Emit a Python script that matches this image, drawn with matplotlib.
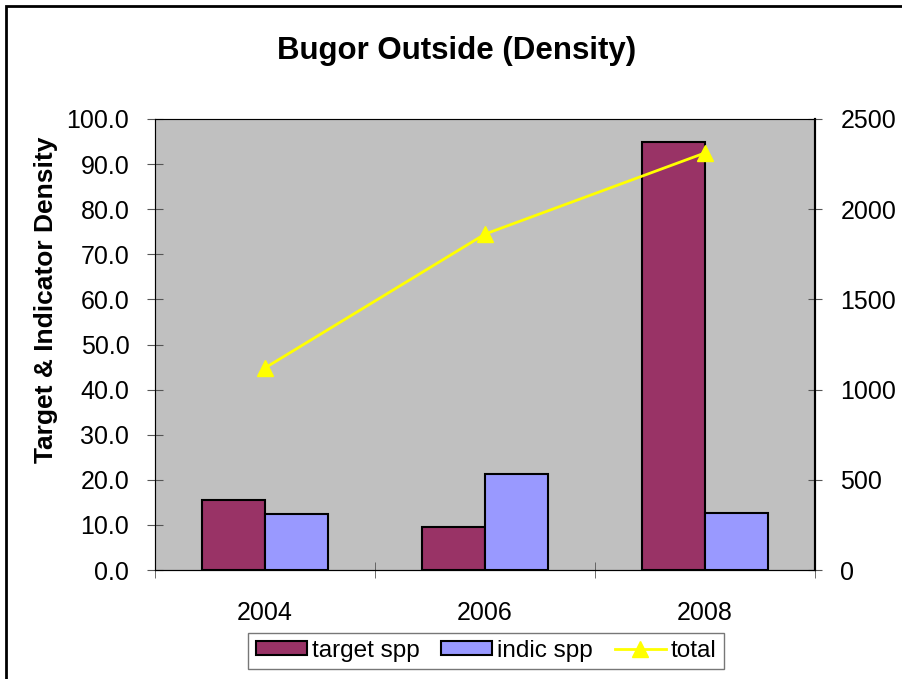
import matplotlib.pyplot as plt
from matplotlib.patches import Rectangle
from matplotlib.lines import Line2D
import numpy as np

years = ["2004", "2006", "2008"]
target_spp = [15.6, 9.5, 95.0]
indic_spp = [12.4, 21.3, 12.6]
total = [1120, 1862, 2312]

fig = plt.figure(figsize=(9.03, 6.79), dpi=100)
plt.rcParams['font.family'] = ['Liberation Sans', 'DejaVu Sans']

# outer frame of the chart (cut off at right and bottom)
fig.patches.append(Rectangle((6/903, -0.1), 1.2, (679-6)/679 + 0.1,
                             transform=fig.transFigure, fill=False,
                             edgecolor="black", linewidth=2))

ax = fig.add_axes([155/903, 1-570/679, 660/903, 451/679])
ax.set_facecolor("#c0c0c0")

x = np.arange(len(years))
w = 1/3.5
ax.bar(x - w/2, target_spp, w, color="#993366", edgecolor="black", linewidth=1.5, zorder=2)
ax.bar(x + w/2, indic_spp, w, color="#9999ff", edgecolor="black", linewidth=1.5, zorder=2)
ax.set_xlim(-0.5, 2.5)
ax.set_ylim(0, 100)
ax.set_yticks(np.arange(0, 101, 10))
ax.set_yticklabels([f"{v:.1f}" for v in np.arange(0, 101, 10)], fontsize=18)
ax.set_xticks(x)
ax.set_xticklabels(years, fontsize=18)
ax.tick_params(axis="x", length=0, pad=22)
ax.set_xticks([-0.5, 0.5, 1.5, 2.5], minor=True)
ax.tick_params(axis="x", which="minor", direction="inout", length=12, color="#555555")
ax.tick_params(axis="y", direction="inout", length=12, color="#555555", pad=12.5)
ax.spines["top"].set_color("#888888")
ax.spines["left"].set_color("#555555")
ax.spines["bottom"].set_color("black")
ax.spines["right"].set_color("black")
ax.spines["right"].set_linewidth(1.5)

fig.text(46/903, 1-300/679, "Target & Indicator Density", rotation=90,
         ha="center", va="center", fontsize=19, fontweight="bold")

ax2 = ax.twinx()
ax2.plot(x, total, color="#ffff00", marker="^", markersize=12, linewidth=2, zorder=3)
ax2.set_ylim(0, 2500)
ax2.set_yticks(np.arange(0, 2501, 500))
ax2.tick_params(axis="y", direction="inout", length=9.5, color="#555555", labelsize=18, pad=13.5)
ax2.spines["right"].set_color("black")
ax2.spines["right"].set_linewidth(1.5)

fig.text(457/903, 1-51/679, "Bugor Outside (Density)", ha="center", va="center",
         fontsize=22.5, fontweight="bold")

handles = [Rectangle((0, 0), 1, 1, facecolor="#993366", edgecolor="black", linewidth=1.5),
           Rectangle((0, 0), 1, 1, facecolor="#9999ff", edgecolor="black", linewidth=1.5),
           Line2D([], [], color="#ffff00", marker="^", markersize=12, linewidth=2)]
leg = fig.legend(handles, ["target spp", "indic spp", "total"], loc="center",
                 bbox_to_anchor=(486/903, 1-651/679), ncol=3, fontsize=17.5,
                 frameon=True, fancybox=False, edgecolor="#555555",
                 handlelength=2.1, handleheight=0.5, handletextpad=0.2,
                 columnspacing=0.9, borderpad=0.3, borderaxespad=0)
leg.get_frame().set_linewidth(1)

fig.savefig("out.png", dpi=100)
